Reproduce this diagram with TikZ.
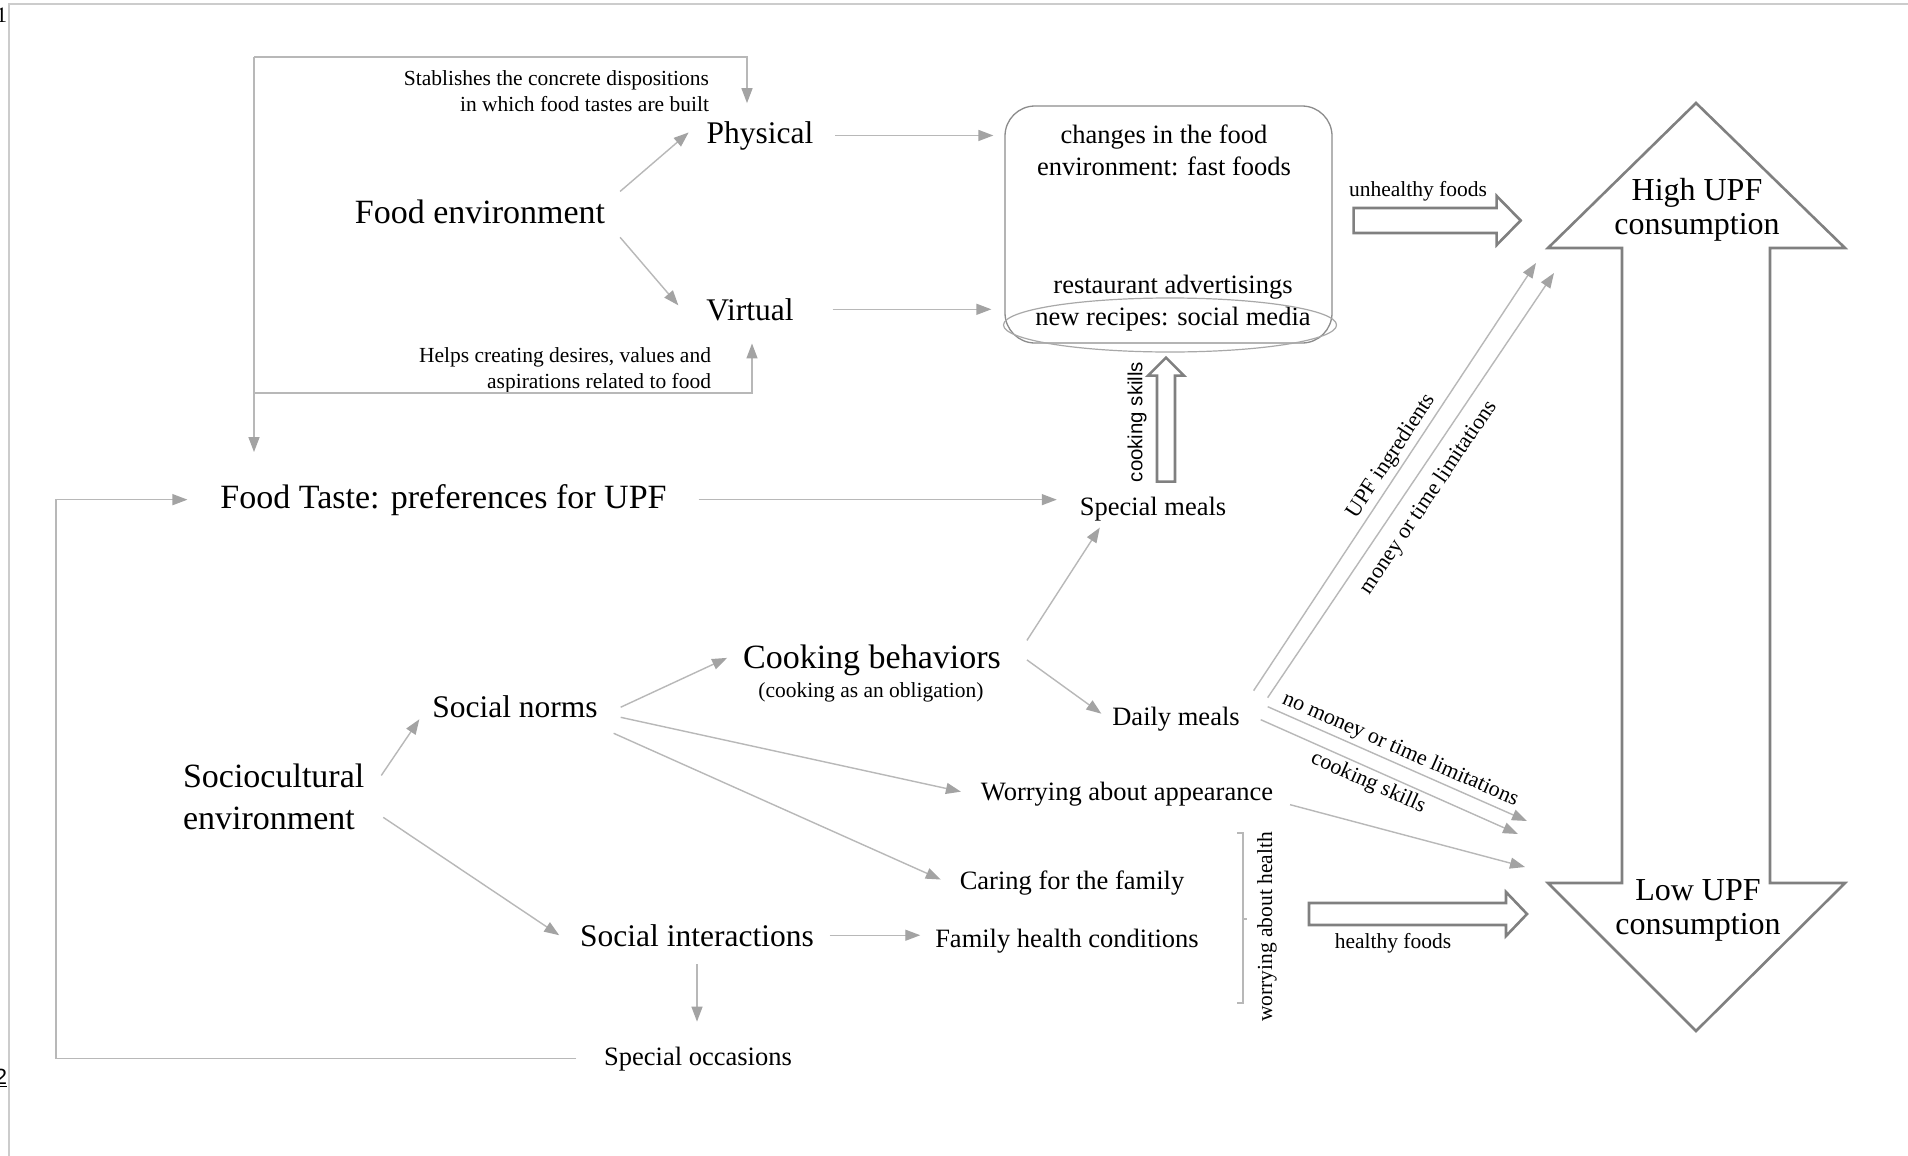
\documentclass[tikz,border=0pt]{standalone}
\usepackage{fontspec}
\setmainfont{Liberation Serif}
\setsansfont{Liberation Sans}
\usetikzlibrary{arrows.meta,shapes.geometric}

\definecolor{linegray}{gray}{0.72}
\definecolor{tipgray}{gray}{0.64}
\definecolor{fatgray}{gray}{0.5}
\definecolor{boxgray}{gray}{0.55}
\definecolor{ellgray}{gray}{0.66}
\definecolor{framegray}{gray}{0.8}

\begin{document}
\begin{tikzpicture}[
    x=1pt, y=-1pt,
    txt/.style={inner sep=0pt, outer sep=0pt},
    titletxt/.style={txt, font=\fontsize{34}{42}\selectfont},
    maintxt/.style={txt, font=\fontsize{31.5}{34}\selectfont},
    itemtxt/.style={txt, font=\fontsize{26.5}{32}\selectfont},
    notetxt/.style={txt, font=\fontsize{21.5}{26}\selectfont},
    edgelbl/.style={font=\fontsize{22}{26}\selectfont, sloped},
    conn/.style={draw=linegray, line width=1.4pt,
                 -{Triangle[length=15pt, width=11pt, color=tipgray]}},
    fat/.style={draw=fatgray, line width=2.6pt, fill=white, line join=miter}
]
\fill[white] (0,0) rectangle (1908,1156);
\useasboundingbox (0,0) rectangle (1908,1156);
\draw[framegray, line width=2pt] (9,1156) -- (9,4) -- (1908,4);
\node[txt, anchor=east, font=\fontsize{22}{26}\selectfont] (pgA) at (7,15) {1};
\node[txt, anchor=east, font=\sffamily\fontsize{22}{26}\selectfont] (pgB) at (7,1078) {\underline{2}};

% outcome arrow (drawn first, texts go on top)
\coordinate (hiL) at (1548,248);
\coordinate (loL) at (1548,883);
\draw[fat] (1696,103) -- (1845,248) -- (1770,248) -- (1770,883) -- (1845,883)
    -- (1696,1031) -- (loL) -- (1622,883) -- (1622,248) -- (hiL) -- cycle;
\node[txt, align=center, font=\fontsize{32}{34}\selectfont] (high) at (1697,210) {High UPF\\consumption};
\node[txt, align=center, font=\fontsize{32}{34}\selectfont] (low)  at (1698,910) {Low UPF\\consumption};

% food environment branch
\node[titletxt, anchor=base] (foodenv) at (480,223) {Food environment};
\node[maintxt, anchor=base]  (phys)    at (760,143) {Physical};
\node[maintxt, anchor=base]  (virt)    at (750,320) {Virtual};
\node[notetxt, anchor=east, align=right] (stab) at (709,91.6)
     {Stablishes the concrete dispositions\\in which food tastes are built};
\node[notetxt, anchor=east, align=right] (helps) at (711,370.5)
     {Helps creating desires, values and\\aspirations related to food};
\node[titletxt, anchor=base] (taste) at (443.5,508) {Food Taste: preferences for UPF};

\node[draw=boxgray, line width=1.3pt, rounded corners=30pt,
      minimum width=327pt, minimum height=237pt] (fbox) at (1168.5,224.5) {};
\node[itemtxt, align=center] (fast) at (1164,150) {changes in the food\\environment: fast foods};
\node[itemtxt, align=center] (adv)  at (1173,302.8) {restaurant advertisings\\new recipes: social media};
\node[draw=ellgray, line width=1.2pt, ellipse,
      minimum width=333pt, minimum height=54pt] (media) at (1170,325) {};

% sociocultural branch
\node[itemtxt, anchor=base]  (special) at (1153,515) {Special meals};
\node[titletxt, anchor=base] (cooking) at (872,668) {Cooking behaviors};
\node[notetxt, anchor=base]  (oblig)   at (871,697) {(cooking as an obligation)};
\node[itemtxt, anchor=base]  (daily)   at (1176,725) {Daily meals};
\node[maintxt, anchor=base]  (norms)   at (515,717) {Social norms};
\node[titletxt, anchor=west, align=left] (socio) at (183,796.4) {Sociocultural\\environment};
\node[itemtxt, anchor=base]  (appear)  at (1127,800) {Worrying about appearance};
\node[itemtxt, anchor=base]  (caring)  at (1072,889) {Caring for the family};
\node[maintxt, anchor=base]  (inter)   at (697,946) {Social interactions};
\node[itemtxt, anchor=base]  (health)  at (1067,947) {Family health conditions};
\node[itemtxt, anchor=base]  (occas)   at (698,1065) {Special occasions};
\node[notetxt, rotate=90] (worry) at (1267,927) {worrying about health};
\node[txt, rotate=90, font=\sffamily\fontsize{20.4}{24}\selectfont] (cskill) at (1137,422) {cooking skills};

\node[notetxt, anchor=base] (unh) at (1418,196) {unhealthy foods};
\node[notetxt, anchor=base] (hlt) at (1393,948) {healthy foods};

\draw[fat] ([shift={(21,-16.5)}]fbox.east) -- ++(143,0) -- ++(0,-12) -- ++(24,24.5)
    -- ++(-24,24.5) -- ++(0,-12) -- ++(-143,0) -- cycle;
\draw[fat] ([shift={(-239,20)}]loL) -- ++(197,0) -- ++(0,-11) -- ++(21,22)
    -- ++(-21,22) -- ++(0,-11) -- ++(-197,0) -- cycle;
\draw[fat] ([shift={(4,-15)}]special.north) -- ++(0,-106) -- ++(-9,0) -- ++(18,-18)
    -- ++(18,18) -- ++(-9,0) -- ++(0,106) -- cycle;

% feedback loops
\coordinate (loopTop) at (254,57);
\coordinate (loopMid) at (254,393);
\draw[conn, shorten >=18pt] (loopTop) -| ([xshift=-13pt]phys.north);
\draw[conn, shorten >=23pt] (loopMid) -| ([xshift=2pt]virt.south);
\draw[conn, shorten >=32pt] (loopTop) -- (loopTop |- taste.north);
\draw[conn, shorten <=28pt, shorten >=33pt] (occas.west) -- ++(-548,0) |- (taste.west);

\draw[conn] ([shift={(15,-8)}]foodenv.north east) -- ([shift={(-18,-3)}]phys.west);
\draw[conn] ([shift={(15,14)}]foodenv.south east) -- ([shift={(-28,-4)}]virt.west);
\draw[conn, shorten <=22pt, shorten >=11pt] (phys) -- (phys -| fbox.west);
\draw[conn, shorten <=39pt, shorten >=13pt] (virt) -- (virt -| fbox.west);
\draw[conn, shorten <=32pt, shorten >=23pt] (taste) -- (taste -| special.west);

\draw[conn] ([shift={(26,-4)}]cooking.north east) -- ([shift={(20,7)}]special.south west);
\draw[conn] ([shift={(26,0)}]cooking.east) -- ([shift={(-11,-5)}]daily.west);
\draw[conn] ([shift={(17,12)}]socio.north east) -- ([shift={(-13,2)}]norms.south west);
\draw[conn] ([shift={(19,-12)}]socio.south east) -- ([shift={(-21,0)}]inter.west);
\draw[conn] ([shift={(23,1)}]norms.east) -- ([shift={(-16,-2)}]cooking.west);
\draw[conn] ([shift={(23,0)}]norms.south east) -- ([shift={(-20,-2)}]appear.west);
\draw[conn] ([shift={(16,16)}]norms.south east) -- ([shift={(-19,-3)}]caring.west);
\draw[conn, shorten <=16pt, shorten >=15pt] (inter) -- (inter -| health.west);
\draw[conn, shorten <=18pt, shorten >=25pt] (inter) -- (inter |- occas.north);

\draw[conn] ([shift={(14,-16)}]daily.north east)
    -- node[edgelbl, above, pos=0.53] {UPF ingredients} ([shift={(-12,15)}]hiL);
\draw[conn] ([shift={(28,-9)}]daily.north east)
    -- node[edgelbl, below=8pt, pos=0.5] {money or time limitations} ([shift={(6,25)}]hiL);
\draw[conn] ([shift={(28,-12)}]daily.east)
    -- node[edgelbl, above, pos=0.49] {no money or time limitations} ([shift={(-21,-62)}]loL);
\draw[conn] ([shift={(21,1)}]daily.east)
    -- node[edgelbl, below, pos=0.44] {cooking skills} ([shift={(-30,-49)}]loL);
\draw[conn] ([shift={(17,11)}]appear.east) -- ([shift={(-23,-16)}]loL);

% bracket for worrying about health
\draw[linegray, line width=1.2pt] ([shift={(-30,-94)}]worry.center) -- ++(6,0) -- ++(0,170) -- ++(-6,0);
\draw[linegray, line width=1.2pt] ([shift={(-24,-8)}]worry.center) -- ++(4,0);
\end{tikzpicture}
\end{document}
